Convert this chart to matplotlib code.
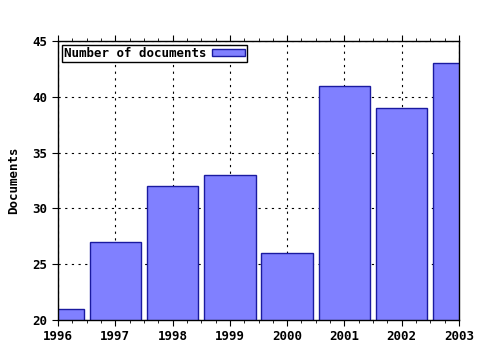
import matplotlib
matplotlib.use("Agg")
import matplotlib.pyplot as plt
from matplotlib.ticker import MultipleLocator

years = [1996, 1997, 1998, 1999, 2000, 2001, 2002, 2003]
docs = [21, 27, 32, 33, 26, 41, 39, 43]

plt.rcParams['font.family'] = 'DejaVu Sans Mono'
plt.rcParams['font.weight'] = 'bold'
plt.rcParams['font.size'] = 9

fig = plt.figure(figsize=(4.8, 3.5), dpi=100)
ax = fig.add_axes([58 / 480, 30 / 350, 401 / 480, 279 / 350])

ax.bar(years, docs, width=0.9, color='#8080ff', edgecolor='#1a1aa0',
       linewidth=1, label='Number of documents', zorder=2)

ax.set_xlim(1996, 2003)
ax.set_ylim(20, 45)
ax.set_xticks(years)
ax.xaxis.set_minor_locator(MultipleLocator(0.25))
ax.set_yticks([20, 25, 30, 35, 40, 45])
ax.tick_params(axis='x', which='both', direction='out', top=True, bottom=True)
ax.tick_params(axis='x', which='major', length=4)
ax.tick_params(axis='x', which='minor', length=2)
ax.tick_params(axis='y', direction='out', length=4, right=False)
ax.grid(True, which='major', color='black', linestyle=(0, (2, 4)), linewidth=0.8, zorder=0)
ax.set_axisbelow(True)
ax.set_ylabel('Documents', fontweight='bold', labelpad=9)

for s in ax.spines.values():
    s.set_linewidth(1)

leg = ax.legend(loc='upper left', markerfirst=False, fancybox=False, framealpha=1,
                edgecolor='black', borderpad=0.15, handlelength=2.6, handleheight=0.5,
                handletextpad=0.5, borderaxespad=0.3)
leg.get_frame().set_linewidth(1)

fig.savefig('out.png', dpi=100)
